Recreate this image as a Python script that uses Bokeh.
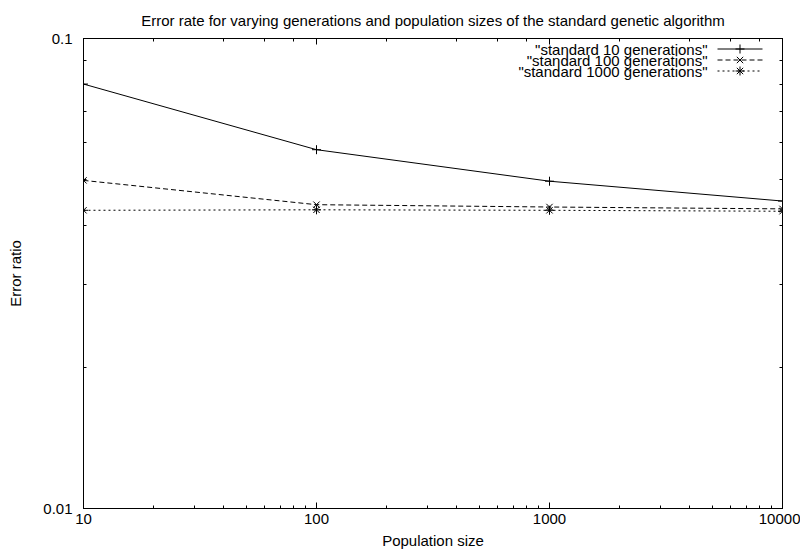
from bokeh.plotting import figure
from bokeh.models import (LogAxis, LogTicker, FixedTicker, Range1d, Label,
                          CustomJSTickFormatter, LinearScale)
from bokeh.embed import file_html
from bokeh.resources import INLINE

# ---- data ----
population = [10, 100, 1000, 10000]
gen10 = [0.0800, 0.0580, 0.0497, 0.0451]
gen100 = [0.0499, 0.0443, 0.0438, 0.0434]
gen1000 = [0.0431, 0.0432, 0.0431, 0.0429]
series_names = ['"standard 10 generations"', '"standard 100 generations"', '"standard 1000 generations"']
y_major_ticks = [0.01, 0.1]
y_minor_ticks = [0.02, 0.03, 0.04, 0.05, 0.06, 0.07, 0.08, 0.09]
title_text = "Error rate for varying generations and population sizes of the standard genetic algorithm"
x_title = "Population size"
y_title = "Error ratio"

FONT = "Liberation Sans"
FS = "15px"
FW, FH = 699, 470

p = figure(width=800, height=558, x_axis_type="log", y_axis_type="log",
           x_range=Range1d(10, 10000), y_range=Range1d(0.01, 0.1),
           output_backend="svg", toolbar_location=None,
           min_border_left=83, min_border_right=18, min_border_top=38, min_border_bottom=50)
p.background_fill_color = "white"
p.border_fill_color = "white"
p.outline_line_color = "black"
p.outline_line_width = 1
p.xgrid.visible = False
p.ygrid.visible = False

p.title.text = title_text
p.title.align = "center"
p.title.text_font = FONT
p.title.text_font_size = FS
p.title.text_font_style = "normal"
p.title.text_color = "black"
p.title.standoff = 19

fmt = CustomJSTickFormatter(code="return (+tick.toPrecision(3)).toString();")
blank = CustomJSTickFormatter(code="return '';")

p.yaxis.ticker = FixedTicker(ticks=y_major_ticks, minor_ticks=y_minor_ticks)
p.xaxis.formatter = fmt
p.yaxis.formatter = fmt
p.xaxis.axis_label = x_title
p.yaxis.axis_label = y_title

right_ax = LogAxis(ticker=FixedTicker(ticks=y_major_ticks, minor_ticks=y_minor_ticks),
                   formatter=blank)
top_ax = LogAxis(ticker=LogTicker(), formatter=blank)
p.add_layout(right_ax, "right")
p.add_layout(top_ax, "above")

for ax in p.axis:
    ax.major_tick_in = 6
    ax.major_tick_out = 0
    ax.minor_tick_in = 3
    ax.minor_tick_out = 0
    ax.axis_line_color = "black"
    ax.major_tick_line_color = "black"
    ax.minor_tick_line_color = "black"
    ax.major_label_text_font = FONT
    ax.major_label_text_font_size = FS
    ax.major_label_text_color = "black"
    ax.axis_label_text_font = FONT
    ax.axis_label_text_font_size = FS
    ax.axis_label_text_font_style = "normal"
    ax.axis_label_text_color = "black"

for ax in (right_ax, top_ax):
    ax.major_label_text_font_size = "0px"
    ax.major_label_standoff = 0

p.xaxis[0].major_label_standoff = 13
p.xaxis[0].axis_label_standoff = 14
p.yaxis[0].major_label_standoff = 11
p.yaxis[0].axis_label_standoff = 16

styles = [
    (gen10, "solid", "cross"),
    (gen100, "5 3", "x"),
    (gen1000, "2 3", "asterisk"),
]
for ys, dash, mk in styles:
    p.line(population, ys, line_color="black", line_width=1, line_dash=dash)
    p.scatter(population, ys, marker=mk, size=9, line_color="black", line_width=1)

# legend in frame-pixel coordinates (gnuplot style: text then sample)
p.extra_x_ranges = {"fx": Range1d(0, FW)}
p.extra_y_ranges = {"fy": Range1d(0, FH)}
p.extra_x_scales = {"fx": LinearScale()}
p.extra_y_scales = {"fy": LinearScale()}
rows_y = [459.5, 448.5, 437.5]
for (ys, dash, mk), name, ry in zip(styles, series_names, rows_y):
    p.add_layout(Label(x=624, y=ry, x_range_name="fx", y_range_name="fy", text=name,
                       text_align="right", text_baseline="middle",
                       text_font=FONT, text_font_size=FS, text_color="black"))
    p.line([634, 679], [ry, ry], x_range_name="fx", y_range_name="fy",
           line_color="black", line_width=1, line_dash=dash)
    p.scatter([656.5], [ry], x_range_name="fx", y_range_name="fy",
              marker=mk, size=9, line_color="black", line_width=1)

open("out.html", "w").write(file_html(p, INLINE))
